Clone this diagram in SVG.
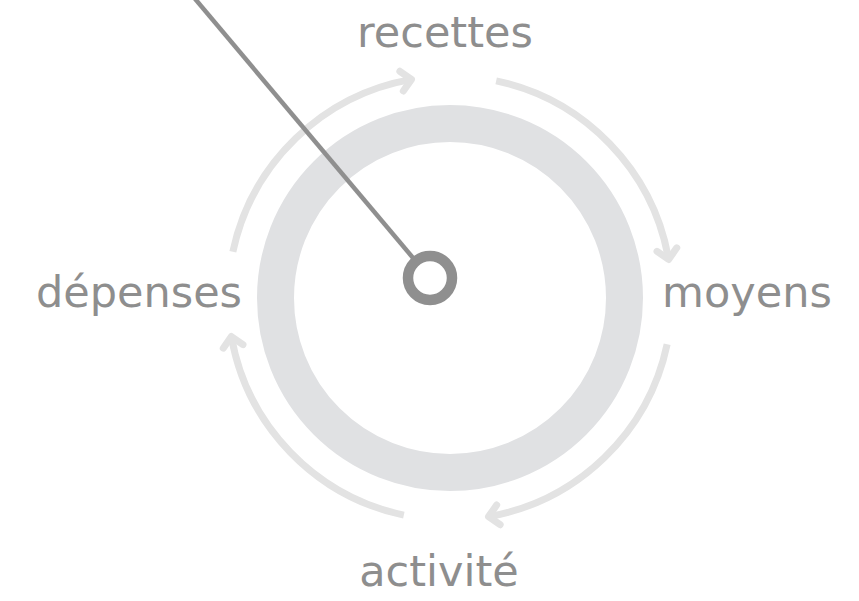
<svg xmlns="http://www.w3.org/2000/svg" width="859" height="601" viewBox="0 0 859 601">
<style>
.lbl{font-family:"DejaVu Sans","Liberation Sans",sans-serif;font-size:43px;fill:#8e8e8e;text-anchor:middle}
.arc{fill:none;stroke:#e3e3e3;stroke-width:7;marker-end:url(#chev)}
</style>
<defs>
<marker id="chev" markerUnits="userSpaceOnUse" viewBox="-16 -16 32 32" markerWidth="32" markerHeight="32" refX="0" refY="0" orient="auto" overflow="visible">
<path d="M -10 -10 L 0 0 L -10 10" fill="none" stroke="#e3e3e3" stroke-width="7" stroke-linecap="round" stroke-linejoin="round"/>
</marker>
</defs>
<rect width="859" height="601" fill="#ffffff"/>
<g id="ring">
<circle cx="450" cy="298" r="174.5" fill="none" stroke="#e0e1e3" stroke-width="37"/>
</g>
<g id="connectors">
<path class="arc" d="M 232.85 251.84 A 222 222 0 0 1 411.45 79.37"/>
<path class="arc" d="M 496.16 80.85 A 222 222 0 0 1 668.63 259.45"/>
<path class="arc" d="M 667.15 344.16 A 222 222 0 0 1 488.55 516.63"/>
<path class="arc" d="M 403.84 515.15 A 222 222 0 0 1 231.37 336.55"/>
</g>
<g id="pointer">
<line x1="189.6" y1="-7.65" x2="415.8" y2="261.2" stroke="#8f8f8f" stroke-width="4.5"/>
<circle cx="430" cy="278" r="22" fill="#ffffff" stroke="#8f8f8f" stroke-width="10.5"/>
</g>
<g id="recettes"><text class="lbl" x="445" y="47">recettes</text></g>
<g id="moyens"><text class="lbl" x="747" y="307">moyens</text></g>
<g id="activite"><text class="lbl" x="439" y="586">activité</text></g>
<g id="depenses"><text class="lbl" x="139" y="307">dépenses</text></g>
</svg>
